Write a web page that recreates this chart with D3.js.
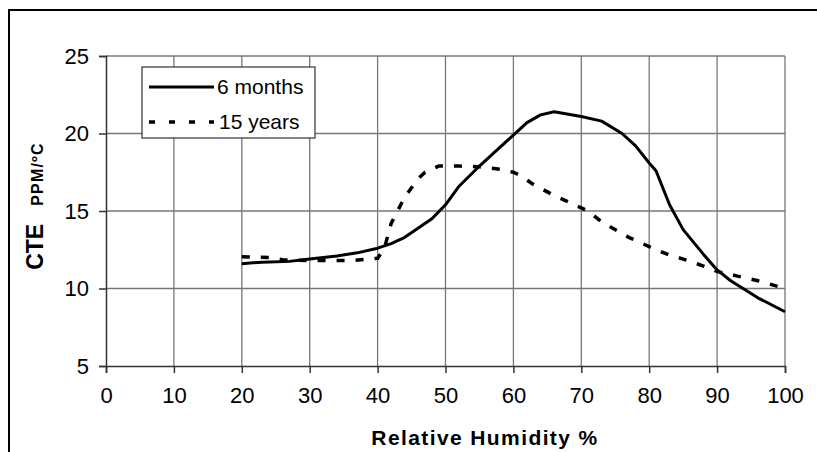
<!DOCTYPE html>
<html>
<head>
<meta charset="utf-8">
<script src="https://cdn.jsdelivr.net/npm/d3@7"></script>
<style>
  body { margin: 0; background: #fff; }
  svg { display: block; font-family: "Liberation Sans", Arial, sans-serif; }
</style>
</head>
<body>
<script>
// humidity (%) vs CTE (ppm/°C)
let sixMonths = [
    [20, 11.6], [23, 11.7], [27, 11.75], [30, 11.9], [34, 12.1], [37, 12.3],
    [40, 12.6], [42, 12.9], [44, 13.3], [46, 13.9], [48, 14.5], [50, 15.4],
    [52, 16.6], [55, 17.9], [57, 18.7], [60, 19.9], [62, 20.7], [64, 21.2],
    [66, 21.4], [70, 21.1], [73, 20.8], [76, 20.0], [78, 19.2], [80, 18.1],
    [81, 17.6], [83, 15.4], [85, 13.8], [88, 12.2], [90, 11.2], [92, 10.5],
    [96, 9.4], [100, 8.5]
];
let fifteenYears = [
    [20, 12.05], [24, 12.0], [26, 11.85], [30, 11.8], [36, 11.8], [40, 11.95],
    [41, 12.6], [42, 14.2], [44, 15.9], [46, 17.1], [47, 17.5], [49, 17.9],
    [52, 17.9], [55, 17.85], [58, 17.7], [60, 17.5], [61, 17.3], [63, 16.7],
    [66, 16.0], [68, 15.6], [71, 15.0], [73, 14.3], [77, 13.3], [80, 12.7],
    [83, 12.15], [85, 11.9], [88, 11.45], [90, 11.1], [93, 10.8], [96, 10.5],
    [100, 10.0]
];
let seriesNames = ["6 months", "15 years"];
let xTicks = [0, 10, 20, 30, 40, 50, 60, 70, 80, 90, 100];
let yTicks = [5, 10, 15, 20, 25];

let width = 817, height = 452;
let margin = {top: 56, right: 32, bottom: 86, left: 106};

let svg = d3.select("body").append("svg")
    .attr("width", width)
    .attr("height", height);

// outer chart frame (runs off the right / bottom edge)
svg.append("rect")
    .attr("x", 9).attr("y", 10)
    .attr("width", 830).attr("height", 470)
    .attr("fill", "none")
    .attr("stroke", "#000")
    .attr("stroke-width", 2);

let x = d3.scaleLinear([0, 100], [margin.left, width - margin.right]);
let y = d3.scaleLinear([5, 25], [height - margin.bottom, margin.top]);

// grid
svg.append("g")
    .attr("stroke", "#777")
    .attr("stroke-width", 1.3)
    .selectAll("line")
    .data(xTicks.slice(1))
    .join("line")
      .attr("x1", d => x(d)).attr("x2", d => x(d))
      .attr("y1", y(25)).attr("y2", y(5));
svg.append("g")
    .attr("stroke", "#777")
    .attr("stroke-width", 1.3)
    .selectAll("line")
    .data(yTicks.slice(1))
    .join("line")
      .attr("y1", d => y(d)).attr("y2", d => y(d))
      .attr("x1", x(0)).attr("x2", x(100));

// axes
svg.append("g")
    .attr("transform", `translate(0,${y(5)})`)
    .call(d3.axisBottom(x).tickValues(xTicks).tickSize(7).tickPadding(14))
    .call(g => g.selectAll("path, line").attr("stroke", "#333").attr("stroke-width", 1.5))
    .call(g => g.selectAll("text")
        .attr("font-size", 22)
        .attr("font-family", "Liberation Sans, Arial, sans-serif")
        .attr("fill", "#000"));

svg.append("g")
    .attr("transform", `translate(${x(0)},0)`)
    .call(d3.axisLeft(y).tickValues(yTicks).tickSize(7).tickPadding(10))
    .call(g => g.selectAll("path, line").attr("stroke", "#333").attr("stroke-width", 1.5))
    .call(g => g.selectAll("text")
        .attr("font-size", 22)
        .attr("font-family", "Liberation Sans, Arial, sans-serif")
        .attr("fill", "#000"));

// lines
let line = d3.line()
    .x(d => x(d[0]))
    .y(d => y(d[1]));

svg.append("path")
    .datum(sixMonths)
    .attr("fill", "none")
    .attr("stroke", "#000")
    .attr("stroke-width", 3)
    .attr("stroke-linejoin", "round")
    .attr("d", line);

svg.append("path")
    .datum(fifteenYears)
    .attr("fill", "none")
    .attr("stroke", "#000")
    .attr("stroke-width", 3.5)
    .attr("stroke-dasharray", "8,11")
    .attr("d", line);

// axis titles
svg.append("text")
    .attr("x", 485)
    .attr("y", 445)
    .attr("text-anchor", "middle")
    .attr("font-size", 21)
    .attr("font-weight", "bold")
    .attr("letter-spacing", 1.4)
    .text("Relative Humidity %");

let yt = svg.append("text")
    .attr("transform", "translate(43,206) rotate(-90)")
    .attr("text-anchor", "middle")
    .attr("font-weight", "bold");
yt.append("tspan").attr("font-size", 23).text("CTE");
yt.append("tspan").attr("font-size", 16).attr("dx", 18).attr("letter-spacing", 1.2).text("PPM/ºC");

// legend
let legend = svg.append("g");
legend.append("rect")
    .attr("x", 142).attr("y", 67)
    .attr("width", 173).attr("height", 71)
    .attr("fill", "#fff")
    .attr("stroke", "#333")
    .attr("stroke-width", 1.2);

let legendRows = legend.selectAll("g.row")
    .data(seriesNames)
    .join("g")
    .attr("class", "row")
    .attr("transform", (d, i) => `translate(0,${87 + i * 35})`);
legendRows.append("line")
    .attr("x1", 149).attr("x2", 214)
    .attr("stroke", "#000")
    .attr("stroke-width", (d, i) => i ? 3.5 : 3)
    .attr("stroke-dasharray", (d, i) => i ? "6,14" : null);
legendRows.append("text")
    .attr("x", (d, i) => i ? 219 : 217)
    .attr("dy", "0.35em")
    .attr("font-size", 21)
    .text(d => d);
</script>
</body>
</html>
